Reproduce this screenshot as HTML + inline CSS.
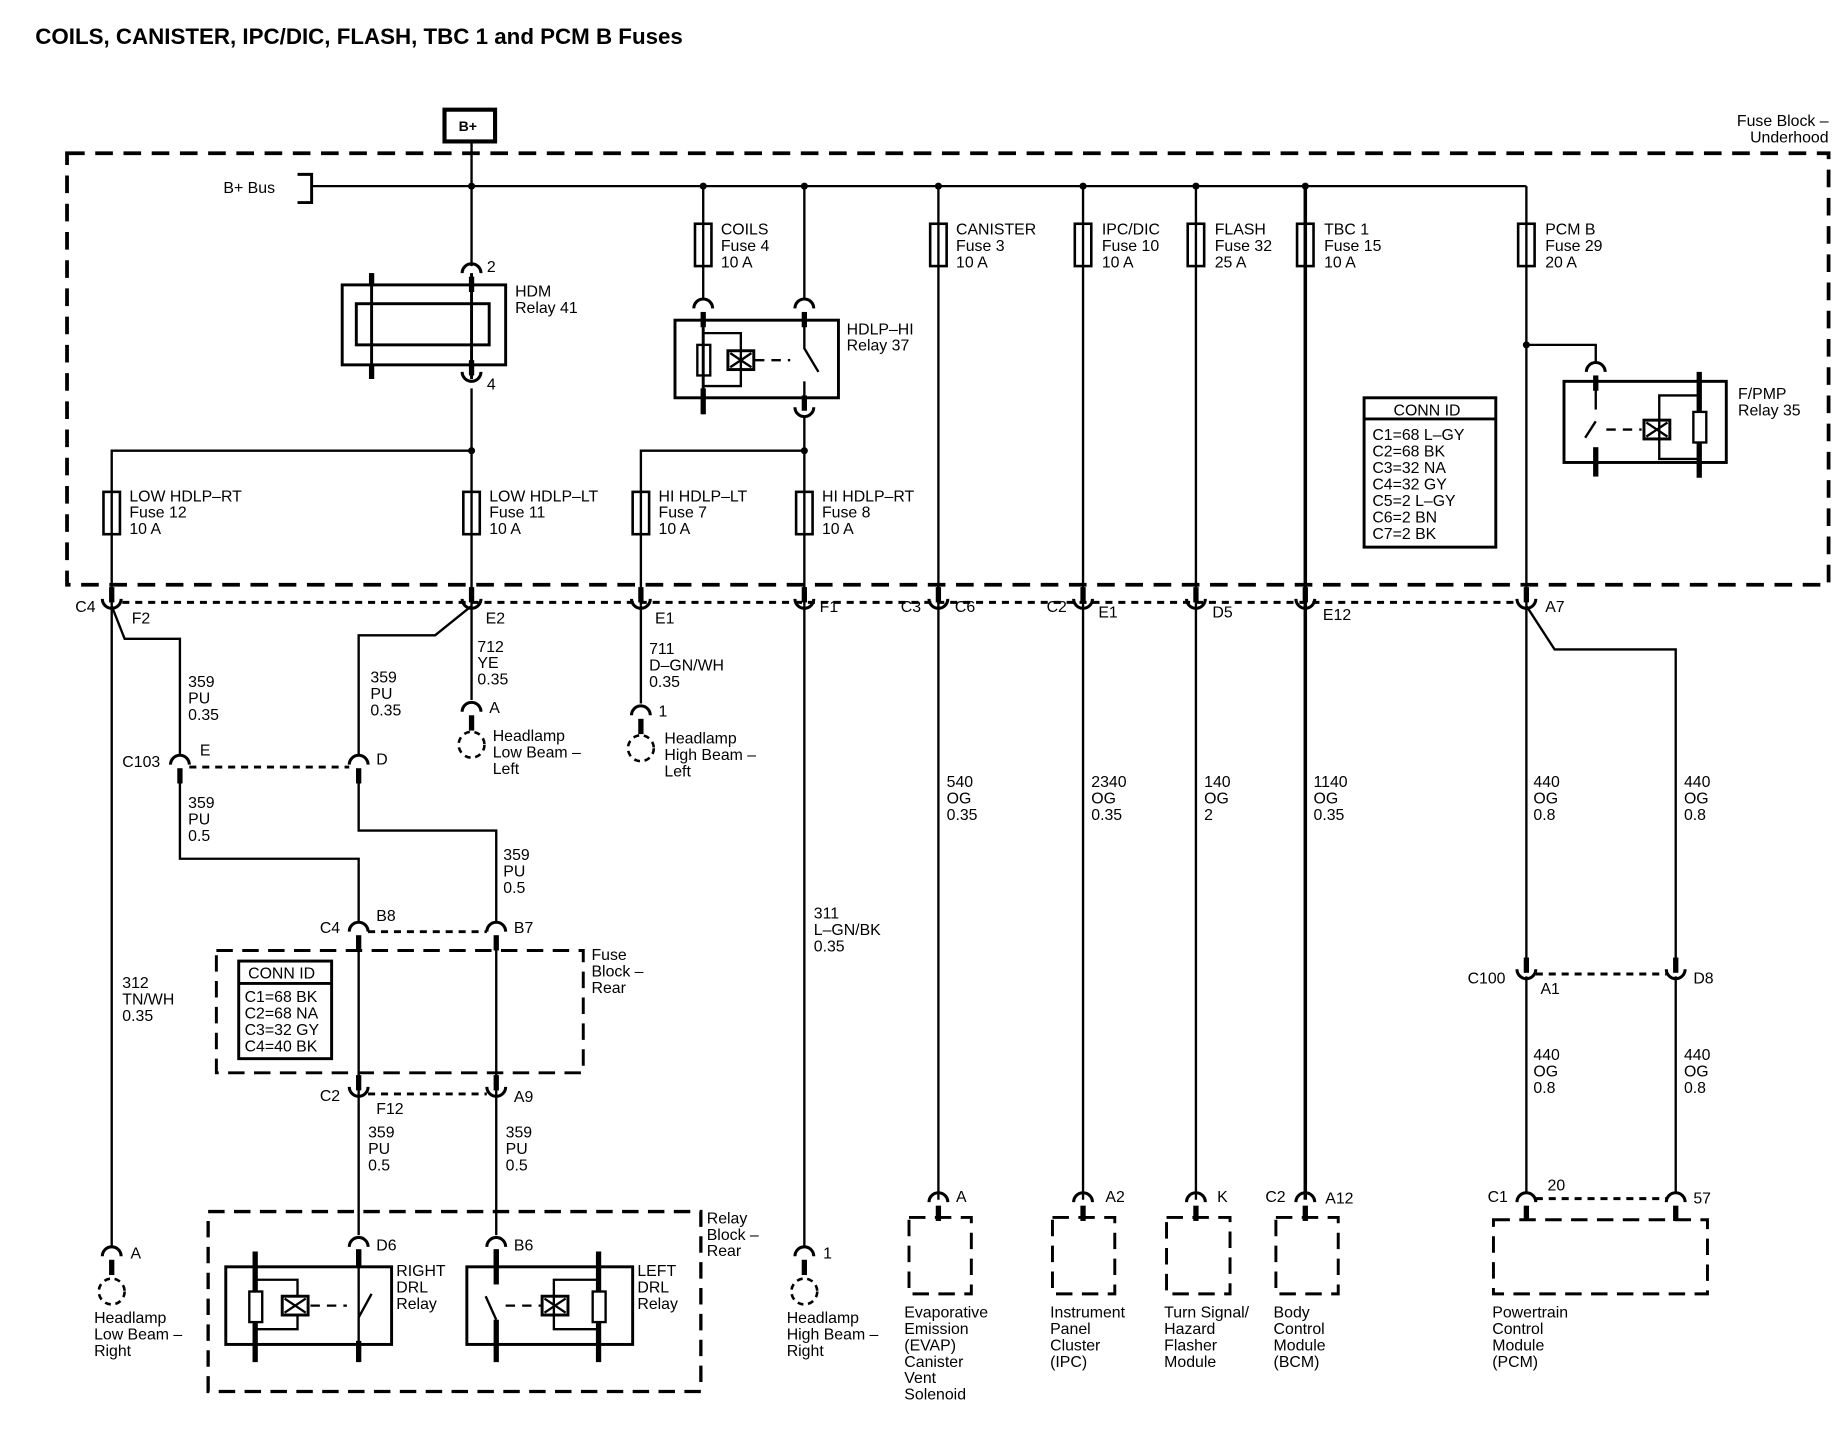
<!DOCTYPE html>
<html><head><meta charset="utf-8"><style>
html,body{margin:0;padding:0;background:#fff}
svg{display:block}
text{font-family:"Liberation Sans",Arial,sans-serif;font-size:13.5px;fill:#000}
.b{font-weight:bold}
</style></head><body>
<svg width="1838" height="1440" viewBox="0 0 1563 1224" xmlns="http://www.w3.org/2000/svg">
<defs>
<g id="cu"><line x1="0" y1="-16" x2="0" y2="-3" stroke="#000" stroke-width="4.5"/><path d="M-8,-6 A8,8 0 0 0 8,-6" fill="none" stroke="#000" stroke-width="2.6"/></g>
<g id="cn"><path d="M-8,0 A8,8 0 0 1 8,0" fill="none" stroke="#000" stroke-width="2.6"/><line x1="0" y1="3" x2="0" y2="16" stroke="#000" stroke-width="4.5"/></g>
<g id="fu"><rect x="-7" y="-18" width="14" height="36" fill="none" stroke="#000" stroke-width="2.2"/></g>
<g id="hl"><circle cx="0" cy="0" r="11" fill="none" stroke="#000" stroke-width="2.2" stroke-dasharray="5,4"/></g>
</defs>
<g fill="none" stroke="#000" stroke-width="2">
<text x="30" y="37" class="b" style="font-size:19px" stroke="none">COILS, CANISTER, IPC/DIC, FLASH, TBC 1 and PCM B Fuses</text>
<rect x="378" y="93" width="43" height="27" stroke-width="3.5"/>
<rect x="57" y="130" width="1498" height="367" stroke-width="3.2" stroke-dasharray="15,9"/>
<line x1="265" y1="158" x2="1298" y2="158"/>
<polyline points="253,148 265,148 265,172 253,172" stroke-width="2.5"/>
<line x1="401" y1="120" x2="401" y2="226"/>
<rect x="291" y="242" width="139" height="68" stroke-width="2.5"/>
<rect x="303" y="258" width="113" height="35" stroke-width="2.5"/>
<line x1="316" y1="232" x2="316" y2="322" stroke-width="2.5"/>
<line x1="401" y1="232" x2="401" y2="322" stroke-width="2.5"/>
<line x1="316" y1="232" x2="316" y2="243" stroke-width="4.5"/><line x1="316" y1="309" x2="316" y2="322" stroke-width="4.5"/>
<use href="#cn" x="401" y="232"/>
<use href="#cu" x="401" y="322"/>
<line x1="401" y1="330" x2="401" y2="515"/>
<polyline points="95,515 95,383 401,383"/>
<line x1="598" y1="158" x2="598" y2="255"/>
<line x1="684" y1="158" x2="684" y2="255"/>
<use href="#cn" x="598" y="262"/><use href="#cn" x="684" y="262"/>
<rect x="574" y="272" width="139" height="66" stroke-width="2.5"/>
<line x1="598" y1="265" x2="598" y2="352" stroke-width="2.5"/>
<line x1="598" y1="330" x2="598" y2="352" stroke-width="4.5"/>
<rect x="593" y="293" width="11" height="26" stroke-width="2"/>
<polyline points="598,283 630,283 630,328 598,328"/>
<rect x="619" y="298" width="22" height="16" stroke-width="2.5"/><path d="M621,300 L639,312 M621,312 L639,300"/>
<line x1="642" y1="306" x2="672" y2="306" stroke-dasharray="8,6"/>
<polyline points="684,270 684,296 696,316"/><line x1="684" y1="324" x2="684" y2="340"/>
<use href="#cu" x="684" y="352"/>
<line x1="684" y1="355" x2="684" y2="515"/>
<polyline points="684,383 545,383 545,515"/>
<line x1="798" y1="158" x2="798" y2="1020"/>
<line x1="921" y1="158" x2="921" y2="1020"/>
<line x1="1017" y1="158" x2="1017" y2="1020"/>
<line x1="1110" y1="158" x2="1110" y2="1020" stroke-width="3"/>
<line x1="1298" y1="158" x2="1298" y2="515"/>
<polyline points="1298,293 1357,293 1357,308"/>
<use href="#cn" x="1357" y="316"/>
<rect x="1330" y="324" width="138" height="69" stroke-width="2.5"/>
<line x1="1357" y1="330" x2="1357" y2="348"/><line x1="1357" y1="358" x2="1348" y2="372"/><line x1="1357" y1="380" x2="1357" y2="405" stroke-width="4.5"/>
<line x1="1366" y1="365" x2="1396" y2="365" stroke-dasharray="8,6"/>
<rect x="1398" y="357" width="22" height="16" stroke-width="2.5"/><path d="M1400,359 L1418,371 M1400,371 L1418,359"/>
<polyline points="1445,336 1411,336 1411,390 1445,390"/>
<line x1="1445" y1="316" x2="1445" y2="406" stroke-width="4.5"/>
<rect x="1440" y="350" width="11" height="26" fill="#fff"/>
<rect x="1160" y="338" width="112" height="127" stroke-width="2.5"/><line x1="1160" y1="356" x2="1272" y2="356" stroke-width="2.5"/>
</g>
<g fill="#fff">
<use href="#fu" x="598" y="208"/><use href="#fu" x="798" y="208"/><use href="#fu" x="921" y="208"/><use href="#fu" x="1017" y="208"/><use href="#fu" x="1110" y="208"/><use href="#fu" x="1298" y="208"/>
<use href="#fu" x="95" y="436"/><use href="#fu" x="401" y="436"/><use href="#fu" x="545" y="436"/><use href="#fu" x="684" y="436"/>
</g>
<g fill="#000">
<circle cx="401" cy="158" r="3"/><circle cx="598" cy="158" r="3"/><circle cx="684" cy="158" r="3"/><circle cx="798" cy="158" r="3"/><circle cx="921" cy="158" r="3"/><circle cx="1017" cy="158" r="3"/><circle cx="1110" cy="158" r="3"/><circle cx="1298" cy="293" r="3"/><circle cx="401" cy="383" r="3"/><circle cx="684" cy="383" r="3"/>
</g>
<g>
<text x="390" y="111" class="b" style="font-size:12px">B+</text>
<text x="1555" y="107" text-anchor="end">Fuse Block –</text><text x="1555" y="121" text-anchor="end">Underhood</text>
<text x="190" y="164">B+ Bus</text>
<text x="414" y="231">2</text><text x="414" y="331">4</text>
<text x="438" y="252">HDM</text><text x="438" y="266">Relay 41</text>
<text x="720" y="284">HDLP–HI</text><text x="720" y="298">Relay 37</text>
<text x="1478" y="339">F/PMP</text><text x="1478" y="353">Relay 35</text>
<text x="613" y="199">COILS</text><text x="613" y="213">Fuse 4</text><text x="613" y="227">10 A</text>
<text x="813" y="199">CANISTER</text><text x="813" y="213">Fuse 3</text><text x="813" y="227">10 A</text>
<text x="937" y="199">IPC/DIC</text><text x="937" y="213">Fuse 10</text><text x="937" y="227">10 A</text>
<text x="1033" y="199">FLASH</text><text x="1033" y="213">Fuse 32</text><text x="1033" y="227">25 A</text>
<text x="1126" y="199">TBC 1</text><text x="1126" y="213">Fuse 15</text><text x="1126" y="227">10 A</text>
<text x="1314" y="199">PCM B</text><text x="1314" y="213">Fuse 29</text><text x="1314" y="227">20 A</text>
<text x="110" y="426">LOW HDLP–RT</text><text x="110" y="440">Fuse 12</text><text x="110" y="454">10 A</text>
<text x="416" y="426">LOW HDLP–LT</text><text x="416" y="440">Fuse 11</text><text x="416" y="454">10 A</text>
<text x="560" y="426">HI HDLP–LT</text><text x="560" y="440">Fuse 7</text><text x="560" y="454">10 A</text>
<text x="699" y="426">HI HDLP–RT</text><text x="699" y="440">Fuse 8</text><text x="699" y="454">10 A</text>
<text x="1185" y="353">CONN ID</text>
<text x="1167" y="374">C1=68 L–GY</text><text x="1167" y="388">C2=68 BK</text><text x="1167" y="402">C3=32 NA</text><text x="1167" y="416">C4=32 GY</text><text x="1167" y="430">C5=2 L–GY</text><text x="1167" y="444">C6=2 BN</text><text x="1167" y="458">C7=2 BK</text>
</g>
<g fill="none" stroke="#000" stroke-width="2">
<line x1="104" y1="512" x2="1290" y2="512" stroke-dasharray="6,5" stroke-width="2.5"/>
<line x1="95" y1="515" x2="95" y2="1060"/>
<polyline points="95,515 106,543 153,543 153,642"/>
<polyline points="401,515 370,540 305,540 305,642"/>
<line x1="401" y1="515" x2="401" y2="595"/>
<line x1="545" y1="515" x2="545" y2="598"/>
<line x1="684" y1="515" x2="684" y2="1060"/>
<polyline points="1298,515 1322,552 1425,552 1425,822"/>
<line x1="1298" y1="515" x2="1298" y2="822"/>
<line x1="161" y1="652" x2="297" y2="652" stroke-dasharray="6,5" stroke-width="2.5"/>
<polyline points="153,660 153,730 305,730 305,785"/>
<polyline points="305,660 305,706 422,706 422,785"/>
<line x1="313" y1="792" x2="414" y2="792" stroke-dasharray="6,5" stroke-width="2.5"/>
<rect x="184" y="808" width="312" height="104" stroke-width="2.5" stroke-dasharray="14,8"/>
<rect x="203" y="817" width="79" height="83" stroke-width="2.5"/><line x1="203" y1="836" x2="282" y2="836" stroke-width="2.5"/>
<line x1="305" y1="800" x2="305" y2="1050"/>
<line x1="422" y1="800" x2="422" y2="1050"/>
<line x1="313" y1="930" x2="414" y2="930" stroke-dasharray="6,5" stroke-width="2.5"/>
<line x1="1306" y1="828" x2="1417" y2="828" stroke-dasharray="6,5" stroke-width="2.5"/>
<line x1="1298" y1="830" x2="1298" y2="1015"/><line x1="1425" y1="830" x2="1425" y2="1015"/>
<line x1="1306" y1="1019" x2="1417" y2="1019" stroke-dasharray="6,5" stroke-width="2.5"/>
<rect x="177" y="1030" width="419" height="153" stroke-width="2.8" stroke-dasharray="14,8"/>
<rect x="192" y="1077" width="141" height="66" stroke-width="2.5"/>
<rect x="397" y="1077" width="141" height="66" stroke-width="2.5"/>
<line x1="217" y1="1064" x2="217" y2="1158" stroke-width="4.5"/>
<rect x="212" y="1098" width="11" height="26" fill="#fff"/>
<polyline points="217,1088 253,1088 253,1130 217,1130"/>
<rect x="240" y="1102" width="22" height="16" stroke-width="2.5" fill="#fff"/><path d="M242,1104 L260,1116 M242,1116 L260,1104"/>
<line x1="264" y1="1110" x2="295" y2="1110" stroke-dasharray="8,6"/>
<line x1="305" y1="1066" x2="305" y2="1158" stroke-width="2"/><line x1="305" y1="1062" x2="305" y2="1078" stroke-width="4.5"/><line x1="305" y1="1140" x2="305" y2="1158" stroke-width="4.5"/>
<line x1="305" y1="1120" x2="316" y2="1100"/>
<rect x="300" y="1100" width="4" height="20" fill="#fff" stroke="none"/>
<line x1="422" y1="1062" x2="422" y2="1158" stroke-width="4.5"/>
<rect x="418" y="1092" width="8" height="30" fill="#fff" stroke="none"/>
<line x1="422" y1="1122" x2="413" y2="1102"/>
<line x1="430" y1="1110" x2="460" y2="1110" stroke-dasharray="8,6"/>
<rect x="461" y="1102" width="22" height="16" stroke-width="2.5" fill="#fff"/><path d="M463,1104 L481,1116 M463,1116 L481,1104"/>
<polyline points="509,1088 471,1088 471,1130 509,1130"/>
<line x1="509" y1="1064" x2="509" y2="1158" stroke-width="4.5"/>
<rect x="504" y="1098" width="11" height="26" fill="#fff"/>
<rect x="773" y="1035" width="53" height="65" stroke-width="2.5" stroke-dasharray="14,8"/>
<rect x="895" y="1035" width="53" height="65" stroke-width="2.5" stroke-dasharray="14,8"/>
<rect x="992" y="1035" width="54" height="65" stroke-width="2.5" stroke-dasharray="14,8"/>
<rect x="1085" y="1035" width="53" height="65" stroke-width="2.5" stroke-dasharray="14,8"/>
<rect x="1270" y="1037" width="182" height="63" stroke-width="2.5" stroke-dasharray="14,8"/>
<use href="#hl" x="401" y="633"/><use href="#hl" x="545" y="636"/><use href="#hl" x="95" y="1098"/><use href="#hl" x="684" y="1098"/>
</g>
<g>
<use href="#cu" x="95" y="515"/><use href="#cu" x="401" y="515"/><use href="#cu" x="545" y="515"/><use href="#cu" x="684" y="515"/><use href="#cu" x="798" y="515"/><use href="#cu" x="921" y="515"/><use href="#cu" x="1017" y="515"/><use href="#cu" x="1110" y="515"/><use href="#cu" x="1298" y="515"/>
<use href="#cn" x="153" y="650"/><use href="#cn" x="305" y="650"/>
<use href="#cn" x="305" y="792"/><use href="#cn" x="422" y="792"/>
<use href="#cu" x="305" y="930"/><use href="#cu" x="422" y="930"/>
<use href="#cu" x="1298" y="830"/><use href="#cu" x="1425" y="830"/>
<use href="#cn" x="401" y="605"/><use href="#cn" x="545" y="608"/>
<use href="#cn" x="95" y="1068"/><use href="#cn" x="684" y="1068"/>
<use href="#cn" x="305" y="1060"/><use href="#cn" x="422" y="1060"/>
<use href="#cn" x="798" y="1022"/><use href="#cn" x="921" y="1022"/><use href="#cn" x="1017" y="1022"/><use href="#cn" x="1110" y="1022"/><use href="#cn" x="1298" y="1022"/><use href="#cn" x="1425" y="1022"/>
</g>
<g>
<text x="64" y="520">C4</text><text x="112" y="530">F2</text>
<text x="413" y="530">E2</text><text x="557" y="530">E1</text><text x="697" y="520">F1</text>
<text x="766" y="520">C3</text><text x="812" y="520">C6</text>
<text x="890" y="520">C2</text><text x="934" y="525">E1</text>
<text x="1031" y="525">D5</text><text x="1125" y="527">E12</text><text x="1314" y="520">A7</text>
<text x="160" y="584">359</text><text x="160" y="598">PU</text><text x="160" y="612">0.35</text>
<text x="315" y="580">359</text><text x="315" y="594">PU</text><text x="315" y="608">0.35</text>
<text x="406" y="554">712</text><text x="406" y="568">YE</text><text x="406" y="582">0.35</text>
<text x="552" y="556">711</text><text x="552" y="570">D–GN/WH</text><text x="552" y="584">0.35</text>
<text x="416" y="606">A</text><text x="560" y="609">1</text>
<text x="419" y="630">Headlamp</text><text x="419" y="644">Low Beam –</text><text x="419" y="658">Left</text>
<text x="565" y="632">Headlamp</text><text x="565" y="646">High Beam –</text><text x="565" y="660">Left</text>
<text x="104" y="652">C103</text><text x="170" y="642">E</text><text x="320" y="650">D</text>
<text x="160" y="687">359</text><text x="160" y="701">PU</text><text x="160" y="715">0.5</text>
<text x="428" y="731">359</text><text x="428" y="745">PU</text><text x="428" y="759">0.5</text>
<text x="805" y="669">540</text><text x="805" y="683">OG</text><text x="805" y="697">0.35</text>
<text x="928" y="669">2340</text><text x="928" y="683">OG</text><text x="928" y="697">0.35</text>
<text x="1024" y="669">140</text><text x="1024" y="683">OG</text><text x="1024" y="697">2</text>
<text x="1117" y="669">1140</text><text x="1117" y="683">OG</text><text x="1117" y="697">0.35</text>
<text x="1304" y="669">440</text><text x="1304" y="683">OG</text><text x="1304" y="697">0.8</text>
<text x="1432" y="669">440</text><text x="1432" y="683">OG</text><text x="1432" y="697">0.8</text>
<text x="692" y="781">311</text><text x="692" y="795">L–GN/BK</text><text x="692" y="809">0.35</text>
<text x="104" y="840">312</text><text x="104" y="854">TN/WH</text><text x="104" y="868">0.35</text>
<text x="272" y="793">C4</text><text x="320" y="783">B8</text><text x="437" y="793">B7</text>
<text x="503" y="816">Fuse</text><text x="503" y="830">Block –</text><text x="503" y="844">Rear</text>
<text x="211" y="832">CONN ID</text>
<text x="208" y="852">C1=68 BK</text><text x="208" y="866">C2=68 NA</text><text x="208" y="880">C3=32 GY</text><text x="208" y="894">C4=40 BK</text>
<text x="272" y="936">C2</text><text x="320" y="947">F12</text><text x="437" y="937">A9</text>
<text x="313" y="967">359</text><text x="313" y="981">PU</text><text x="313" y="995">0.5</text>
<text x="430" y="967">359</text><text x="430" y="981">PU</text><text x="430" y="995">0.5</text>
<text x="1248" y="836">C100</text><text x="1310" y="845">A1</text><text x="1440" y="836">D8</text>
<text x="1304" y="901">440</text><text x="1304" y="915">OG</text><text x="1304" y="929">0.8</text>
<text x="1432" y="901">440</text><text x="1432" y="915">OG</text><text x="1432" y="929">0.8</text>
<text x="601" y="1040">Relay</text><text x="601" y="1054">Block –</text><text x="601" y="1068">Rear</text>
<text x="320" y="1063">D6</text><text x="437" y="1063">B6</text>
<text x="337" y="1085">RIGHT</text><text x="337" y="1099">DRL</text><text x="337" y="1113">Relay</text>
<text x="542" y="1085">LEFT</text><text x="542" y="1099">DRL</text><text x="542" y="1113">Relay</text>
<text x="111" y="1070">A</text><text x="700" y="1070">1</text>
<text x="80" y="1125">Headlamp</text><text x="80" y="1139">Low Beam –</text><text x="80" y="1153">Right</text>
<text x="669" y="1125">Headlamp</text><text x="669" y="1139">High Beam –</text><text x="669" y="1153">Right</text>
<text x="813" y="1022">A</text><text x="940" y="1022">A2</text><text x="1035" y="1022">K</text><text x="1076" y="1022">C2</text><text x="1127" y="1023">A12</text>
<text x="1265" y="1022">C1</text><text x="1316" y="1012">20</text><text x="1440" y="1023">57</text>
<text x="769" y="1120">Evaporative</text><text x="769" y="1134">Emission</text><text x="769" y="1148">(EVAP)</text><text x="769" y="1162">Canister</text><text x="769" y="1176">Vent</text><text x="769" y="1190">Solenoid</text>
<text x="893" y="1120">Instrument</text><text x="893" y="1134">Panel</text><text x="893" y="1148">Cluster</text><text x="893" y="1162">(IPC)</text>
<text x="990" y="1120">Turn Signal/</text><text x="990" y="1134">Hazard</text><text x="990" y="1148">Flasher</text><text x="990" y="1162">Module</text>
<text x="1083" y="1120">Body</text><text x="1083" y="1134">Control</text><text x="1083" y="1148">Module</text><text x="1083" y="1162">(BCM)</text>
<text x="1269" y="1120">Powertrain</text><text x="1269" y="1134">Control</text><text x="1269" y="1148">Module</text><text x="1269" y="1162">(PCM)</text>
</g>
</svg>
</body></html>
